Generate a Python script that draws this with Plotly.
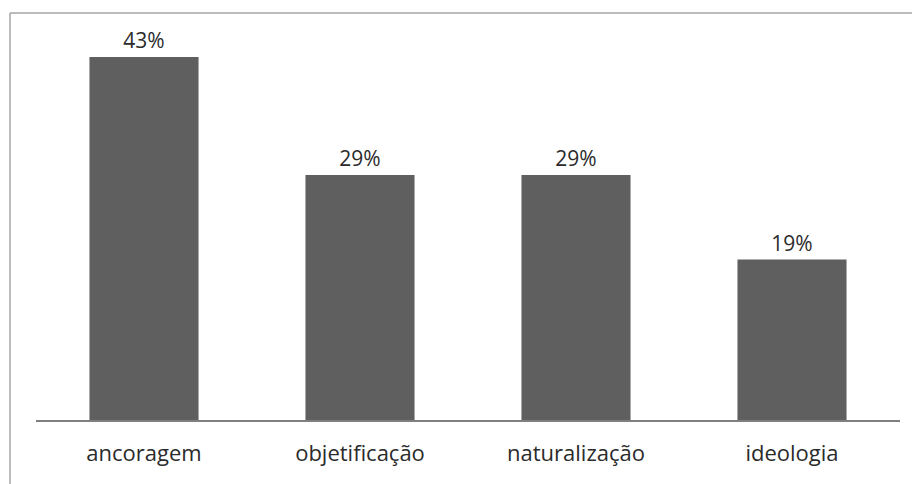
import plotly.graph_objects as go

categories = ["ancoragem", "objetificação", "naturalização", "ideologia"]
values = [43, 29, 29, 19]
labels = [f"{v}%" for v in values]

W, H = 912, 484
ML, MR, MT, MB = 36, 12, 40, 64
pw, ph = W - ML - MR, H - MT - MB


def px_to_paper_x(px):
    return (px - ML) / pw


def px_to_paper_y(py):
    return (H - MB - py) / ph


fig = go.Figure(
    go.Bar(
        x=categories,
        y=values,
        text=labels,
        textposition="outside",
        cliponaxis=False,
        marker=dict(color="#5f5f5f", line=dict(width=0)),
        textfont=dict(family="Open Sans", size=21, color="#2b2b2b"),
        hoverinfo="skip",
    )
)

# chart-area frame (left and top edges)
frame = dict(type="line", xref="paper", yref="paper",
             line=dict(color="#a6a6a6", width=1.5))
fig.add_shape(**frame, x0=px_to_paper_x(10), x1=px_to_paper_x(10),
              y0=px_to_paper_y(13), y1=px_to_paper_y(H + 5))
fig.add_shape(**frame, x0=px_to_paper_x(10), x1=px_to_paper_x(W + 5),
              y0=px_to_paper_y(13), y1=px_to_paper_y(13))

fig.update_layout(
    width=W,
    height=H,
    margin=dict(l=ML, r=MR, t=MT, b=MB),
    paper_bgcolor="white",
    plot_bgcolor="white",
    bargap=0.495,
    showlegend=False,
    font=dict(family="Open Sans", size=21, color="#2b2b2b"),
    xaxis=dict(
        showline=True,
        linecolor="#7f7f7f",
        linewidth=1.5,
        showgrid=False,
        ticks="",
        ticklabelstandoff=13,
        tickfont=dict(family="Open Sans", size=22, color="#2b2b2b"),
        fixedrange=True,
    ),
    yaxis=dict(
        range=[0, 45],
        visible=False,
        showgrid=False,
        zeroline=False,
        fixedrange=True,
    ),
)

fig.write_html("out.html")
